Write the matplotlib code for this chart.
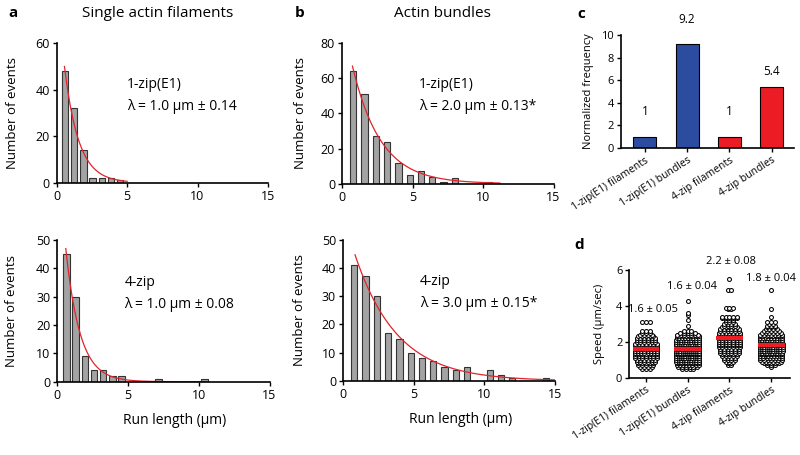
import numpy as np
import matplotlib.pyplot as plt

plt.rcParams['font.family'] = ['Open Sans', 'DejaVu Sans']

# run length histograms: bin centre (um) and number of events
a1_bins = [0.6, 1.25, 1.9, 2.55, 3.2, 3.85, 4.5]
a1_counts = [48, 32, 14, 2, 2, 2, 1]
a2_bins = [0.65, 1.3, 1.95, 2.6, 3.25, 3.9, 4.55, 5.2, 5.85, 6.5, 7.15, 7.8, 8.45, 9.1, 9.75, 10.4]
a2_counts = [45, 30, 9, 4, 4, 2, 2, 0, 0, 0, 1, 0, 0, 0, 0, 1]
b1_bins = [0.8, 1.6, 2.4, 3.2, 4.0, 4.8, 5.6, 6.4, 7.2, 8.0, 8.8, 9.6, 10.4]
b1_counts = [64, 51, 27, 24, 12, 5, 7, 4, 1, 3, 0, 0, 1]
b2_bins = [0.8, 1.6, 2.4, 3.2, 4.0, 4.8, 5.6, 6.4, 7.2, 8.0, 8.8, 9.6, 10.4, 11.2, 12.0, 12.8, 13.6, 14.4]
b2_counts = [41, 37, 30, 17, 15, 10, 8, 7, 5, 4, 5, 0, 4, 2, 1, 0, 0, 1]

# exponential fits: amplitude, decay length, x range of the drawn curve
a1_fit = (86.7, 1.0, 0.55, 5.0)
a2_fit = (85.6, 1.0, 0.6, 10.5)
b1_fit = (97.0, 2.0, 0.74, 11.2)
b2_fit = (59.2, 3.0, 0.85, 15.0)

a1_text = ["1-zip(E1)", "λ = 1.0 µm ± 0.14"]
a2_text = ["4-zip", "λ = 1.0 µm ± 0.08"]
b1_text = ["1-zip(E1)", "λ = 2.0 µm ± 0.13*"]
b2_text = ["4-zip", "λ = 3.0 µm ± 0.15*"]

# panel c
c_labels = ["1-zip(E1) filaments", "1-zip(E1) bundles", "4-zip filaments", "4-zip bundles"]
c_values = [1, 9.2, 1, 5.4]
c_text = ["1", "9.2", "1", "5.4"]
c_colors = ["#2B4C9F", "#2B4C9F", "#EC1C24", "#EC1C24"]

# panel d: speeds binned in 0.1 um/s rows (first row, counts per row)
d1_start, d1_counts = 0.5, [3, 4, 5, 5, 6, 6, 7, 7, 7, 8, 8, 8, 8, 7, 7, 6, 6, 6, 5, 4, 3, 3, 0, 0, 0, 0, 3]
d2_start, d2_counts = 0.5, [4, 6, 8, 9, 10, 10, 11, 11, 11, 12, 12, 12, 12, 11, 11, 10, 10, 9, 8, 7, 5, 3,
                            0, 0, 1, 0, 0, 1, 0, 0, 1, 1, 0, 0, 0, 0, 0, 0, 1]
d3_start, d3_counts = 0.7, [2, 2, 3, 4, 4, 5, 5, 6, 6, 6, 7, 7, 7, 7, 7, 7, 7, 7, 7, 6, 6, 5, 4, 4, 3, 3, 5, 5,
                            0, 0, 0, 2, 3, 0, 0, 0, 0, 0, 0, 0, 0, 0, 2, 0, 0, 0, 0, 0, 1]
d4_start, d4_counts = 0.6, [1, 3, 5, 6, 7, 8, 9, 10, 10, 11, 11, 11, 11, 11, 10, 10, 9, 8, 7, 6, 5, 4, 3, 3, 2, 3,
                            0, 0, 1, 0, 0, 0, 1, 0, 0, 0, 0, 0, 0, 0, 0, 0, 0, 1]
d_means = [1.6, 1.6, 2.2, 1.8]
d_text = ["1.6 ± 0.05", "1.6 ± 0.04", "2.2 ± 0.08", "1.8 ± 0.04"]


fig = plt.figure(figsize=(8, 4.55), dpi=100)


def style(ax, lw=1.2):
    for s in ['top', 'right']:
        ax.spines[s].set_visible(False)
    for s in ['left', 'bottom']:
        ax.spines[s].set_linewidth(lw)
    ax.tick_params(direction='out', length=3, width=1, labelsize=9, pad=2)


def hist_panel(rect, bins, counts, fit, text, ymax, ystep, ylab_x, text_xy, xlabel):
    ax = fig.add_axes(rect)
    ax.bar(bins, counts, width=0.45, color='#A3A3A3', edgecolor='#333333', linewidth=0.8)
    amp, lam, x0, x1 = fit
    xs = np.linspace(x0, x1, 200)
    ax.plot(xs, amp * np.exp(-xs / lam), color='#E3232C', lw=0.9)
    ax.set_xlim(0, 15)
    ax.set_ylim(0, ymax)
    ax.set_xticks([0, 5, 10, 15])
    ax.set_yticks(np.arange(0, ymax + 1, ystep))
    style(ax)
    ax.set_ylabel("Number of events", fontsize=9.5)
    ax.yaxis.set_label_coords(ylab_x, 0.5)
    tx, ty = text_xy
    ax.text(tx, ty, text[0] + "\n" + text[1], fontsize=10, va='center', ha='left', linespacing=1.6)
    if xlabel:
        ax.set_xlabel("Run length (µm)", fontsize=10)
        ax.xaxis.set_label_coords(0.555, -0.22)
    return ax


hist_panel([0.0709, 0.5985, 0.264, 0.3064], a1_bins, a1_counts, a1_fit, a1_text, 60, 20, -0.178, (5.0, 37.5), False)
hist_panel([0.0716, 0.1611, 0.2653, 0.3114], a2_bins, a2_counts, a2_fit, a2_text, 50, 10, -0.185, (4.75, 31.2), True)
hist_panel([0.4275, 0.5963, 0.2644, 0.3086], b1_bins, b1_counts, b1_fit, b1_text, 80, 20, -0.165, (5.46, 50.2), False)
hist_panel([0.4288, 0.1626, 0.2644, 0.311], b2_bins, b2_counts, b2_fit, b2_text, 50, 10, -0.173, (5.46, 31.3), True)

fig.text(12.7 / 800, 1 - 13.3 / 455, "a", fontsize=11, fontweight='bold', va='center', ha='center')
fig.text(158 / 800, 1 - 13.3 / 455, "Single actin filaments", fontsize=11, va='center', ha='center')
fig.text(300 / 800, 1 - 13.3 / 455, "b", fontsize=11, fontweight='bold', va='center', ha='center')
fig.text(442 / 800, 1 - 13.3 / 455, "Actin bundles", fontsize=11, va='center', ha='center')
fig.text(581.7 / 800, 1 - 14 / 455, "c", fontsize=11, fontweight='bold', va='center', ha='center')
fig.text(579 / 800, 1 - 245 / 455, "d", fontsize=11, fontweight='bold', va='center', ha='center')

# panel c
axc = fig.add_axes([0.776, 0.675, 0.216, 0.248])
xc = np.arange(len(c_values))
axc.bar(xc, c_values, width=0.54, color=c_colors, edgecolor='black', linewidth=0.8)
for i, (v, t) in enumerate(zip(c_values, c_text)):
    pad = 1.35 if v > 5 and v < 9 else 2.2
    axc.text(i, v + pad, t, ha='center', va='center', fontsize=8.5, clip_on=False)
axc.set_xlim(-0.57, 3.52)
axc.set_ylim(0, 10)
axc.set_yticks([0, 2, 4, 6, 8, 10])
axc.set_xticks(xc)
style(axc)
axc.tick_params(labelsize=8)
axc.set_xticklabels(c_labels, rotation=33, ha='right', rotation_mode='anchor', fontsize=7.5)
axc.set_ylabel("Normalized frequency", fontsize=8)
axc.yaxis.set_label_coords(-0.156, 0.5)

# panel d
axd = fig.add_axes([0.7866, 0.1699, 0.2009, 0.2367])
groups = [(d1_start, d1_counts), (d2_start, d2_counts), (d3_start, d3_counts), (d4_start, d4_counts)]
for g, (start, counts) in enumerate(groups):
    xs, ys = [], []
    for r, n in enumerate(counts):
        if n == 0:
            continue
        dx = min(0.09, 0.6 / n)
        off = (np.arange(n) - (n - 1) / 2) * dx
        xs.extend(g + off)
        ys.extend([start + 0.1 * r] * n)
    axd.scatter(xs, ys, s=8, facecolor='white', edgecolor='black', linewidth=0.75, zorder=2)
    axd.hlines(d_means[g], g - 0.32, g + 0.32, color='#EE1C24', lw=3, zorder=3)
label_xy = [(0.16, 3.8), (1.1, 5.08), (2.03, 6.48), (2.99, 5.55)]
for (lx, ly), t in zip(label_xy, d_text):
    axd.text(lx, ly, t, ha='center', va='center', fontsize=8, clip_on=False)
axd.set_xlim(-0.4, 3.45)
axd.set_ylim(0, 6)
axd.set_yticks([0, 2, 4, 6])
axd.set_xticks(range(4))
style(axd)
axd.tick_params(labelsize=8)
axd.set_xticklabels(c_labels, rotation=33, ha='right', rotation_mode='anchor', fontsize=7.5)
axd.set_ylabel("Speed (µm/sec)", fontsize=8)
axd.yaxis.set_label_coords(-0.151, 0.5)

fig.savefig("out.png", dpi=100)
